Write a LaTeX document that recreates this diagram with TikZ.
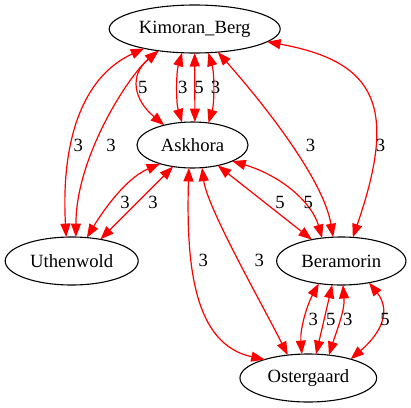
\documentclass[tikz,border=0pt]{standalone}
\usepackage{fontspec}
\setmainfont{Liberation Serif}
\usetikzlibrary{shapes.geometric,arrows.meta}
\begin{document}
\begin{tikzpicture}[x=1pt,y=-1pt,
  every node/.style={font=\fontsize{18.67}{22}\selectfont},
  town/.style={ellipse,draw=black,line width=1.1pt,inner sep=0pt,outer sep=0pt},
  link/.style={draw=red,line width=1.2pt,{Triangle[length=13.5pt,width=10pt]}-{Triangle[length=13.5pt,width=10pt]}},
  lbl/.style={inner sep=0pt}]
\useasboundingbox (0,0) rectangle (411,407);
\node[town,minimum width=171,minimum height=48] (K) at (194.7,29) {Kimoran\_Berg};
\node[town,minimum width=111,minimum height=46] (A) at (192.5,145) {Askhora};
\node[town,minimum width=133,minimum height=48] (U) at (71.7,261) {Uthenwold};
\node[town,minimum width=129.3,minimum height=48] (B) at (341.3,261) {Beramorin};
\node[town,minimum width=136.7,minimum height=48] (O) at (308.3,378) {Ostergaard};
% Kimoran_Berg - Uthenwold
\draw[link] (K.201) .. controls +(-65,30) and +(-5,-90) .. (U.103);
\draw[link] (K.211) .. controls +(-30,25) and +(0,-80) .. (U.80);
% Kimoran_Berg - Askhora
\draw[link] (K.211) .. controls +(-30,25) and +(-30,-25) .. (A.145);
\draw[link] (K.242) .. controls +(-6,20) and +(-6,-20) .. (A.115.5);
\draw[link] (K.270) -- (A.84);
\draw[link] (K.300) .. controls +(6,20) and +(6,-20) .. (A.54.4);
% Kimoran_Berg - Beramorin
\draw[link] (K.315) .. controls +(40,45) and +(-10,-60) .. (B.109);
\draw[link] (K.350) .. controls +(110,20) and +(45,-130) .. (B.64);
% Askhora - Uthenwold
\draw[link] (A.210) .. controls +(-35,15) and +(15,-25) .. (U.57);
\draw[link] (A.228) -- (U.37.5);
% Askhora - Beramorin
\draw[link] (A.321) -- (B.144);
\draw[link] (A.338) .. controls +(50,15) and +(-10,-35) .. (B.130);
% Askhora - Ostergaard
\draw[link] (A.261) .. controls +(-3,100) and +(-70,-15) .. (O.157);
\draw[link] (A.293) .. controls +(5,40) and +(-25,-50) .. (O.132);
% Beramorin - Ostergaard
\draw[link] (B.225) .. controls +(-12,22) and +(-2,-25) .. (O.105);
\draw[link] (B.249) -- (O.72);
\draw[link] (B.274) .. controls +(2,25) and +(8,-25) .. (O.48);
\draw[link] (B.322) .. controls +(20,25) and +(35,-30) .. (O.24);
% labels
\node[lbl] (l1) at (78.3,145) {3};
\node[lbl] (l2) at (111,145) {3};
\node[lbl] (l3) at (142.7,87) {5};
\node[lbl] (l4) at (182.7,87) {3};
\node[lbl] (l5) at (199,87) {5};
\node[lbl] (l6) at (215.5,87) {3};
\node[lbl] (l7) at (310.5,145) {3};
\node[lbl] (l8) at (380.5,145) {3};
\node[lbl] (l9) at (125,202) {3};
\node[lbl] (l10) at (153,202) {3};
\node[lbl] (l11) at (280,202) {5};
\node[lbl] (l12) at (308.3,202) {5};
\node[lbl] (l13) at (203.3,260) {3};
\node[lbl] (l14) at (259.3,260) {3};
\node[lbl] (l15) at (313.3,319) {3};
\node[lbl] (l16) at (330.7,319) {5};
\node[lbl] (l17) at (347.7,319) {3};
\node[lbl] (l18) at (385,319) {5};
\end{tikzpicture}
\end{document}
